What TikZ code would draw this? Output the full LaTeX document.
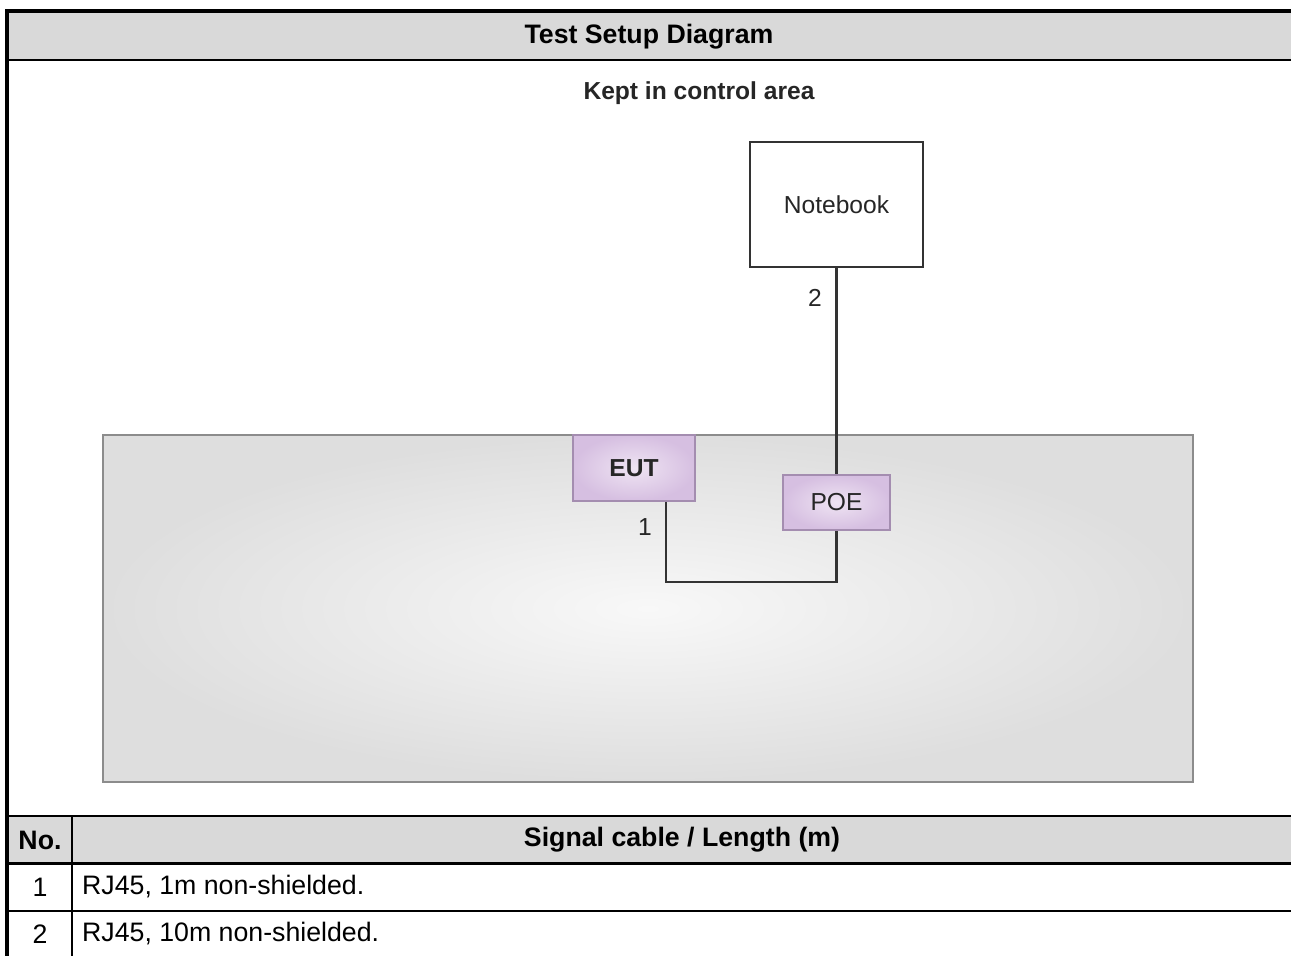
\documentclass[tikz,border=0pt]{standalone}
\usepackage{fontspec}
\setmainfont{Liberation Sans}
\usepackage{tikz}
\usetikzlibrary{shapes}

\definecolor{headgray}{HTML}{D9D9D9}
\definecolor{areaedge}{HTML}{8C8C8C}
\definecolor{areaout}{HTML}{DEDEDE}
\definecolor{areain}{HTML}{F8F8F8}
\definecolor{boxedge}{HTML}{A48DB0}
\definecolor{boxout}{HTML}{D6BFE1}
\definecolor{boxin}{HTML}{EFE4F3}
\definecolor{wire}{HTML}{333333}

\tikzset{
  unitbox/.style={shape=rectangle, draw=boxedge, line width=1.1pt, shading=radial, inner color=boxin, outer color=boxout, text=black!85},
  wirepath/.style={draw=wire, line width=1.2pt},
  rowline/.style={line width=1.2pt},
  tabletext/.style={font=\fontsize{15.2}{18}\selectfont},
  tablehead/.style={font=\fontsize{15.2}{18}\selectfont\bfseries}
}

\begin{document}
\begin{tikzpicture}[x=0.02cm, y=-0.02cm, font=\fontsize{14}{17}\selectfont]

\useasboundingbox (0,0) rectangle (1291,956);
\fill[headgray] (9,13) rectangle (1291,60);
\fill[headgray] (9,816) rectangle (1291,863);
\draw[rowline] (9,60) -- (1291,60);
\draw[rowline] (9,816) -- (1291,816);
\draw[line width=1.7pt] (9,863) -- (1291,863);
\draw[rowline] (9,911) -- (1291,911);
\draw[rowline] (72,816) -- (72,956);
\draw[line width=2.3pt] (7,956) -- (7,11) -- (1291,11);

\node[name=title, tablehead] at (649,37) {Test Setup Diagram};
\node[name=area, shape=rectangle, minimum width=21.82cm, minimum height=6.94cm, draw=areaedge, line width=1.2pt, shading=radial, inner color=areain, outer color=areaout] at (648,608.5) {};
\node[name=keep, font=\fontsize{14}{17}\selectfont\bfseries, text=black!85] at (699,93) {Kept in control area};
\node[name=Notebook, shape=rectangle, minimum width=3.46cm, minimum height=2.5cm, draw=black!80, line width=1.1pt, fill=white, text=black!85] at (836.5,204.5) {Notebook};
\node[name=EUT, unitbox, minimum width=2.44cm, minimum height=1.32cm, font=\fontsize{14}{17}\selectfont\bfseries] at (634,468) {EUT};
\node[name=POE, unitbox, minimum width=2.14cm, minimum height=1.1cm] at (836.5,502.5) {POE};
\node[name=lab1, text=black!85] at (645,527) {1};
\node[name=lab2, text=black!85] at (815,298) {2};

\coordinate (bend) at (836.5,582);
\draw[wirepath] (Notebook.south) -- (POE.north);
\draw[wirepath] ([xshift=0.64cm]EUT.south) |- (bend) -- (POE.south);

\node[name=nohead, tablehead] at (40,840) {No.};
\node[name=cablehead, tablehead] at (682,840) {Signal cable / Length (m)};
\node[name=no1, tabletext] at (40,887) {1};
\node[name=no2, tabletext] at (40,934) {2};
\node[name=cable1, tabletext, anchor=west] at (76,887) {RJ45, 1m non-shielded.};
\node[name=cable2, tabletext, anchor=west] at (76,934) {RJ45, 10m non-shielded.};

\end{tikzpicture}
\end{document}
